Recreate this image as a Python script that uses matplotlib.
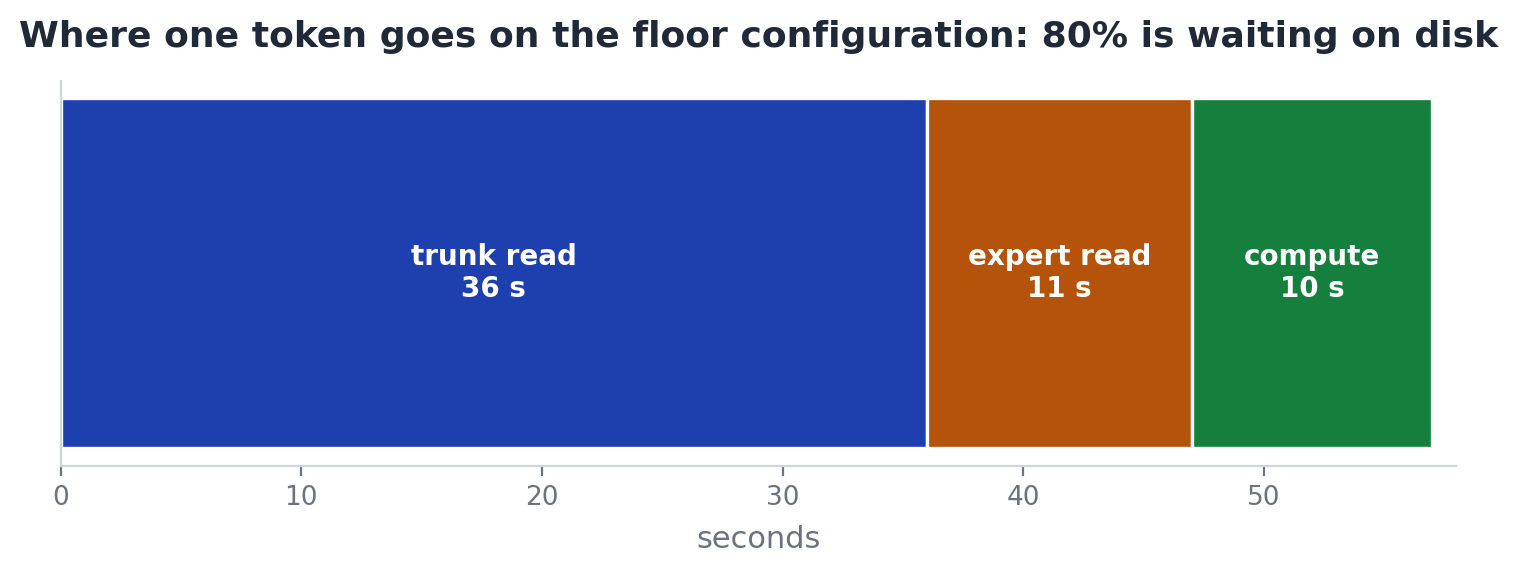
import matplotlib
matplotlib.use("Agg")
import matplotlib.pyplot as plt

# time budget for one token, floor configuration
stages = ["trunk read", "expert read", "compute"]
seconds = [36, 11, 10]
colors = ["#1e40af", "#b45309", "#15803d"]

plt.rcParams["font.family"] = "DejaVu Sans"

fig, ax = plt.subplots(figsize=(7.585, 2.875), dpi=200)

left = 0
for name, val, col in zip(stages, seconds, colors):
    ax.barh(0, val, left=left, height=0.9, color=col, edgecolor="white", linewidth=1.2)
    ax.text(left + val / 2, 0, f"{name}\n{val} s", ha="center", va="center",
            color="white", fontsize=10, fontweight="bold")
    left += val

ax.set_xlim(0, 58)
ax.set_yticks([])
ax.set_xlabel("seconds", fontsize=11, color="#6b7280", labelpad=5)
ax.tick_params(axis="x", colors="#6b7280", labelsize=9.5, length=3.5, width=0.8)
for s in ["top", "right"]:
    ax.spines[s].set_visible(False)
for s in ["left", "bottom"]:
    ax.spines[s].set_color("#d1d5db")
    ax.spines[s].set_linewidth(0.8)

ax.set_title("Where one token goes on the floor configuration: 80% is waiting on disk",
             fontsize=13, fontweight="bold", color="#1f2937", pad=12)

plt.subplots_adjust(left=0.04, right=0.96, top=0.86, bottom=0.19)
fig.savefig("out.png", dpi=200)
